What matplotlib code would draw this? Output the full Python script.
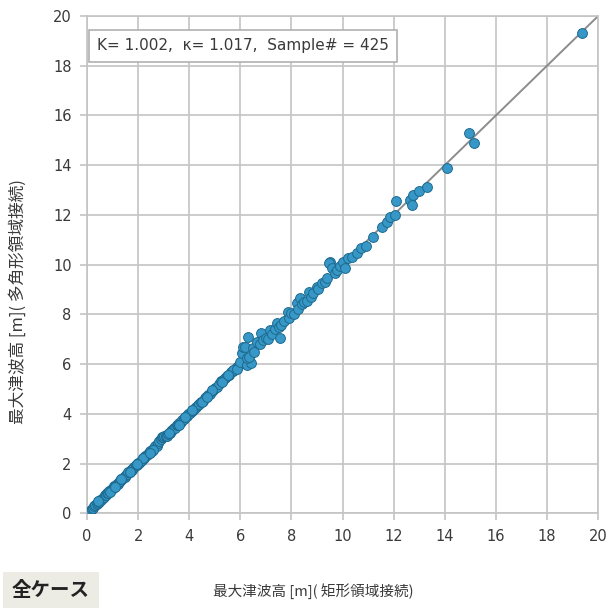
import matplotlib
matplotlib.use("Agg")
from matplotlib import pyplot as plt

plt.rcParams['font.family'] = ['Noto Sans CJK JP', 'DejaVu Sans']

# rectangular-domain (x) vs polygonal-domain (y) max tsunami height [m]
x_low = [0.12, 0.18, 0.22, 0.28, 0.33, 0.38, 0.42, 0.47, 0.52, 0.56, 0.61, 0.66,
         0.70, 0.75, 0.79, 0.84, 0.88, 0.93, 0.97, 1.02, 1.07, 1.11, 1.16, 1.21,
         1.25, 1.30, 1.34, 1.39, 1.44, 1.48, 1.53, 1.58, 1.62, 1.67, 1.72, 1.76,
         1.81, 1.86, 1.90, 1.95, 2.00, 2.05, 2.10, 2.14, 2.19, 2.24, 2.29, 2.34,
         2.38, 2.43, 2.48, 2.53, 2.58, 2.63, 2.68, 2.73, 2.78, 2.83, 2.88, 2.93,
         2.98, 3.03, 3.08, 3.13, 3.18, 3.24, 3.29, 3.34, 3.40, 3.45, 3.51, 3.56,
         3.62, 3.68, 3.73, 3.79, 3.85, 3.91, 3.97, 4.03, 4.09, 4.15, 4.21, 4.28,
         4.34, 4.40, 4.47, 4.54, 4.60, 4.67, 4.74, 4.81, 4.88, 4.95, 5.02, 5.09,
         5.17, 5.24, 5.32, 5.40, 5.48, 5.56, 5.64, 5.72, 5.80, 5.88, 5.96,
         0.45, 0.90, 1.35, 1.70, 2.20, 2.60, 3.20, 3.60, 4.10, 4.50, 4.90, 5.30,
         5.70, 1.10, 1.95, 2.45, 3.85, 4.70, 5.50, 5.85]
y_low = [0.11, 0.19, 0.21, 0.29, 0.32, 0.39, 0.43, 0.46, 0.53, 0.55, 0.62, 0.65,
         0.72, 0.74, 0.80, 0.83, 0.90, 0.92, 0.98, 1.00, 1.08, 1.10, 1.17, 1.19,
         1.27, 1.28, 1.36, 1.37, 1.45, 1.47, 1.55, 1.56, 1.64, 1.66, 1.73, 1.75,
         1.83, 1.84, 1.92, 1.94, 2.02, 2.03, 2.12, 2.13, 2.21, 2.22, 2.31, 2.33,
         2.40, 2.42, 2.50, 2.51, 2.60, 2.61, 2.70, 2.72, 2.82, 2.92, 2.98, 3.05,
         3.08, 3.10, 3.12, 3.11, 3.20, 3.23, 3.31, 3.33, 3.42, 3.44, 3.53, 3.55,
         3.64, 3.67, 3.75, 3.78, 3.87, 3.90, 3.99, 4.02, 4.11, 4.14, 4.23, 4.27,
         4.36, 4.39, 4.49, 4.53, 4.62, 4.66, 4.76, 4.80, 4.90, 4.94, 5.05, 5.08,
         5.20, 5.30, 5.36, 5.42, 5.50, 5.55, 5.66, 5.71, 5.82, 5.87, 5.98,
         0.49, 0.86, 1.39, 1.66, 2.24, 2.56, 3.24, 3.56, 4.14, 4.46, 4.94, 5.26,
         5.74, 1.06, 1.99, 2.41, 3.89, 4.66, 5.55, 5.80]

x_high = [6.00, 6.05, 6.10, 6.20, 6.30, 6.25, 6.40, 6.25, 6.35, 6.50, 6.55, 6.65,
          6.75, 6.80, 6.90, 7.00, 7.10, 7.15, 7.25, 7.35, 7.45, 7.55, 7.50, 7.60,
          7.70, 7.85, 7.90, 8.00, 8.10, 8.20, 8.25, 8.35, 8.40, 8.50, 8.60, 8.70,
          8.75, 8.85, 9.00, 9.05, 9.20, 9.30, 9.40, 9.50, 9.45, 9.60, 9.70, 9.80,
          9.90, 10.00, 10.10, 10.20, 10.35, 10.55, 10.70, 10.90, 11.20, 11.55,
          11.75, 11.85, 12.10, 12.05, 12.65, 12.70, 12.75, 13.00, 13.30, 14.10,
          14.95, 15.15, 19.35]
y_high = [6.10, 6.45, 6.70, 6.68, 7.10, 5.95, 6.05, 6.25, 6.30, 6.65, 6.50, 6.90,
          6.80, 7.25, 6.95, 7.05, 7.00, 7.35, 7.20, 7.40, 7.65, 7.05, 7.50, 7.55,
          7.75, 8.10, 7.85, 8.05, 8.00, 8.45, 8.20, 8.65, 8.40, 8.50, 8.55, 8.90,
          8.70, 8.85, 9.10, 9.00, 9.25, 9.30, 9.45, 10.10, 10.05, 9.85, 9.65, 9.80,
          9.95, 10.10, 9.85, 10.25, 10.30, 10.45, 10.65, 10.75, 11.10, 11.50,
          11.70, 11.90, 12.55, 12.00, 12.60, 12.40, 12.80, 12.95, 13.10, 13.90,
          15.30, 14.90, 19.30]

stats_text = "K= 1.002,  κ= 1.017,  Sample# = 425"
grid_c = '#c4c4c4'
text_c = '#3a3a3a'

fig = plt.figure(figsize=(6.08, 6.11), dpi=100)
ax = fig.add_axes([0.143, 0.160, 0.841, 0.814])

ax.plot([0, 20], [0, 20], color='#8c8c8c', lw=1.4, zorder=2)
ax.scatter(x_low + x_high, y_low + y_high, s=50, c='#3797c6',
           edgecolors='#1d6a90', linewidths=0.7, zorder=3)

ax.set_xlim(0, 20)
ax.set_ylim(0, 20)
ax.set_xticks(range(0, 21, 2))
ax.set_yticks(range(0, 21, 2))
ax.grid(True, color=grid_c, lw=1.2)
ax.set_axisbelow(True)
for s in ax.spines.values():
    s.set_color(grid_c)
    s.set_linewidth(1.2)
ax.tick_params(direction='out', length=5, width=1.2, color=grid_c,
               labelsize=10.5, labelcolor=text_c, pad=6)
for lab in ax.get_xticklabels() + ax.get_yticklabels():
    lab.set_family('DejaVu Sans')

ax.text(0.020, 0.955, stats_text, transform=ax.transAxes, fontsize=11,
        family='DejaVu Sans', color=text_c, va='top', ha='left',
        bbox=dict(boxstyle='square,pad=0.55', fc='white', ec='#b0b0b0', lw=1.2))

fig.text(0.515, 0.033, "最大津波高 [m]( 矩形領域接続)", ha='center', va='center',
         fontsize=10.5, color=text_c)
fig.text(0.030, 0.507, "最大津波高 [m]( 多角形領域接続)", ha='center', va='center',
         rotation=90, fontsize=12, color=text_c)
fig.text(0.084, 0.034, "全ケース", ha='center', va='center', fontsize=14,
         fontweight='bold', color='#222222',
         bbox=dict(boxstyle='square,pad=0.45', fc='#ecece4', ec='none'))

fig.savefig('out.png', dpi=100)
